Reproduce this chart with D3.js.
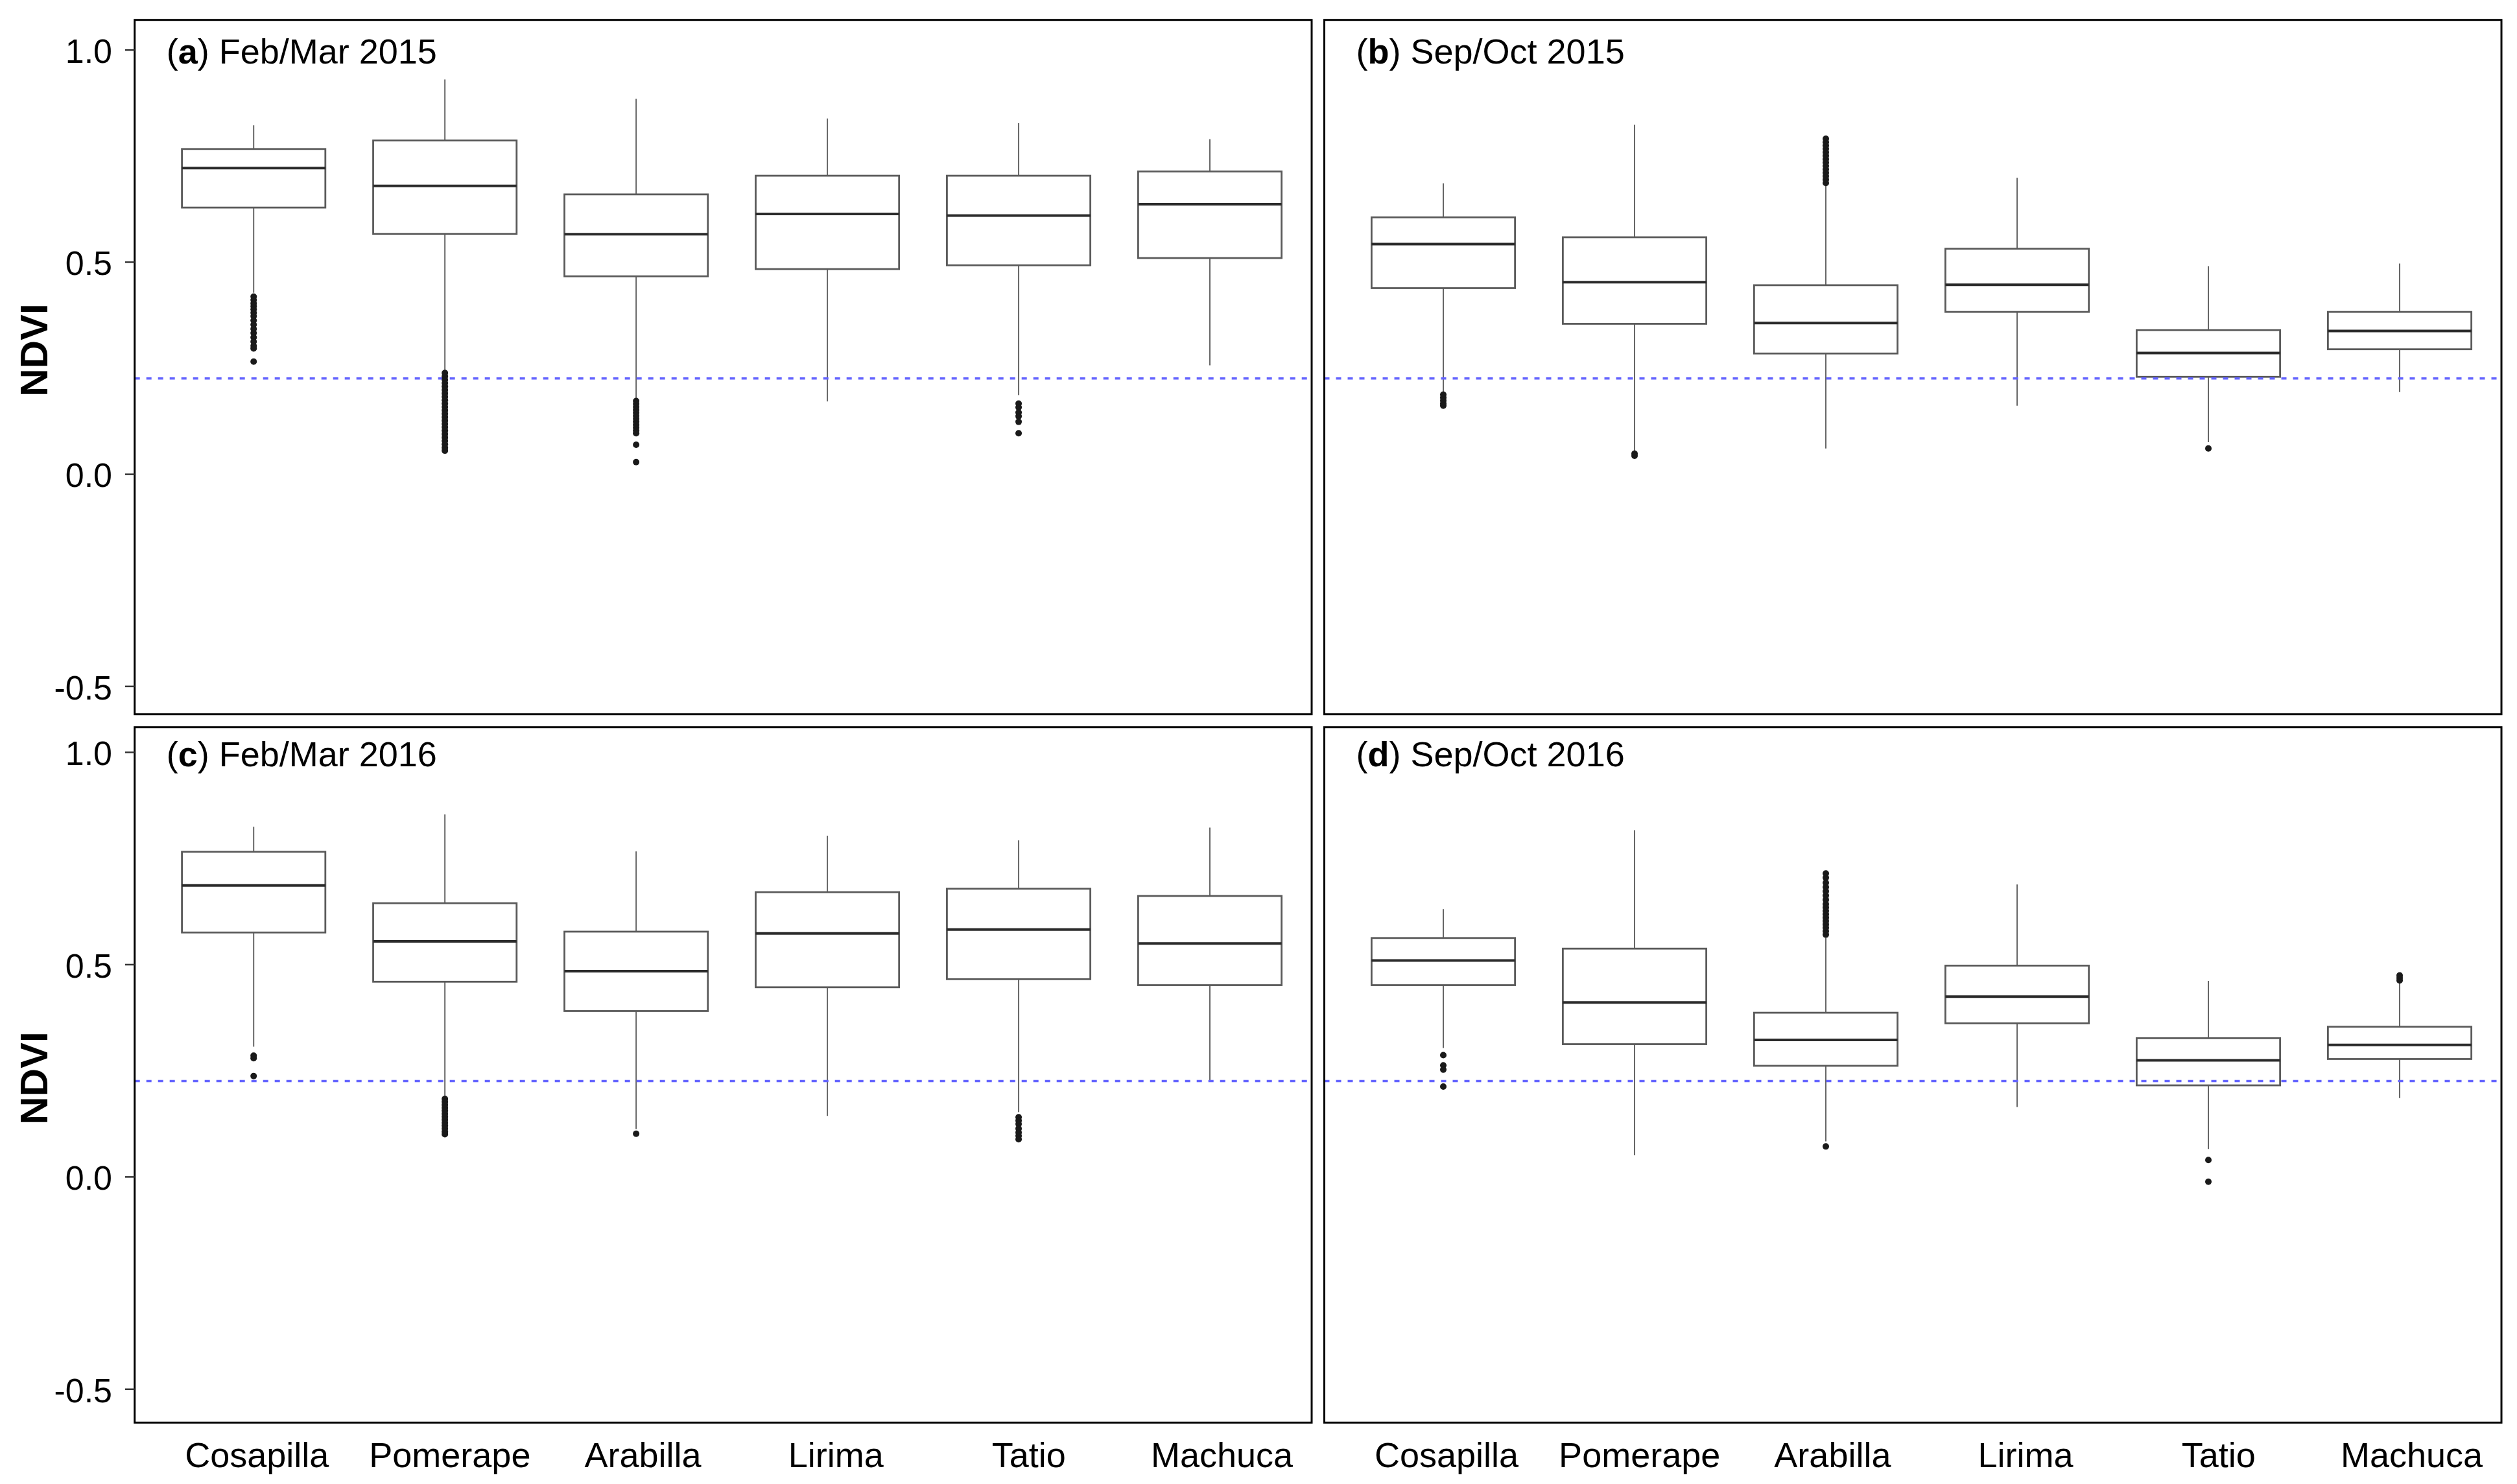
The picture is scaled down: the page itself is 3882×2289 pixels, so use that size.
<!DOCTYPE html>
<html>
<head>
<meta charset="utf-8">
<script src="https://cdn.jsdelivr.net/npm/d3@7"></script>
<style>
  body { margin: 0; background: #fff; }
  text { font-family: "Liberation Sans", Arial, sans-serif; }
</style>
</head>
<body>
<svg id="chart"></svg>
<script>
// sites along the x axis
const sites = ["Cosapilla", "Pomerape", "Arabilla", "Lirima", "Tatio", "Machuca"];
const yTicks = [-0.5, 0, 0.5, 1.0];
const ndviThreshold = 0.225;
const panelLetters = ["a", "b", "c", "d"];
const panelPeriods = ["Feb/Mar 2015", "Sep/Oct 2015", "Feb/Mar 2016", "Sep/Oct 2016"];

// [lower whisker, Q1, median, Q3, upper whisker] for each site
const febMar2015 = [
  [0.427, 0.628, 0.721, 0.766, 0.822],
  [0.242, 0.566, 0.679, 0.786, 0.930],
  [0.177, 0.466, 0.565, 0.659, 0.884],
  [0.171, 0.483, 0.613, 0.703, 0.838],
  [0.186, 0.492, 0.609, 0.703, 0.827],
  [0.256, 0.509, 0.636, 0.713, 0.789]
];
const sepOct2015 = [
  [0.193, 0.438, 0.542, 0.605, 0.685],
  [0.055, 0.354, 0.452, 0.558, 0.823],
  [0.060, 0.284, 0.356, 0.445, 0.679],
  [0.161, 0.382, 0.446, 0.531, 0.698],
  [0.075, 0.229, 0.285, 0.339, 0.490],
  [0.193, 0.294, 0.337, 0.382, 0.496]
];
const febMar2016 = [
  [0.306, 0.575, 0.686, 0.765, 0.824],
  [0.187, 0.459, 0.554, 0.644, 0.853],
  [0.112, 0.390, 0.484, 0.577, 0.766],
  [0.143, 0.446, 0.573, 0.670, 0.803],
  [0.152, 0.465, 0.582, 0.678, 0.792],
  [0.224, 0.451, 0.549, 0.661, 0.822]
];
const sepOct2016 = [
  [0.303, 0.451, 0.509, 0.562, 0.630],
  [0.050, 0.312, 0.410, 0.537, 0.816],
  [0.083, 0.261, 0.322, 0.386, 0.563],
  [0.164, 0.361, 0.424, 0.497, 0.688],
  [0.065, 0.215, 0.274, 0.326, 0.461],
  [0.185, 0.277, 0.310, 0.353, 0.456]
];

// outliers for each site
const febMar2015Out = [
  [0.418, 0.41, 0.402, 0.395, 0.388, 0.38, 0.372, 0.362, 0.352, 0.342, 0.332, 0.322, 0.312, 0.302, 0.296, 0.265],
  [0.238, 0.23, 0.222, 0.214, 0.206, 0.198, 0.19, 0.182, 0.174, 0.166, 0.158, 0.15, 0.142, 0.134, 0.126, 0.118, 0.11, 0.102, 0.094, 0.086, 0.078, 0.07, 0.062, 0.055],
  [0.172, 0.165, 0.158, 0.151, 0.144, 0.137, 0.13, 0.123, 0.116, 0.109, 0.102, 0.096, 0.069, 0.028],
  [],
  [0.166, 0.157, 0.145, 0.136, 0.123, 0.096],
  []
];
const sepOct2015Out = [
  [0.187, 0.18, 0.173, 0.166, 0.161],
  [0.048, 0.043],
  [0.686, 0.694, 0.702, 0.71, 0.718, 0.726, 0.734, 0.742, 0.75, 0.758, 0.766, 0.774, 0.782, 0.79],
  [],
  [0.060],
  []
];
const febMar2016Out = [
  [0.285, 0.279, 0.237],
  [0.183, 0.176, 0.169, 0.162, 0.155, 0.148, 0.141, 0.134, 0.127, 0.12, 0.113, 0.106, 0.100],
  [0.101],
  [],
  [0.14, 0.132, 0.124, 0.113, 0.104, 0.096, 0.088],
  []
];
const sepOct2016Out = [
  [0.286, 0.262, 0.252, 0.212],
  [],
  [0.57, 0.578, 0.586, 0.594, 0.602, 0.61, 0.618, 0.626, 0.634, 0.642, 0.652, 0.662, 0.672, 0.682, 0.692, 0.704, 0.714, 0.071],
  [],
  [0.039, -0.012],
  [0.462, 0.468, 0.474]
];

const width = 3882, height = 2289;

const cols = [{ x0: 207.7, x1: 2023 }, { x0: 2042.5, x1: 3858 }];
const rows = [
  { y0: 30.7, y1: 1101.7, top: 76.7, bottom: 1058.3, labelY: 540 },
  { y0: 1121.7, y1: 2194.3, top: 1160, bottom: 2142.3, labelY: 1663 }
];

const panels = [
  { stats: febMar2015, out: febMar2015Out, col: 0, row: 0 },
  { stats: sepOct2015, out: sepOct2015Out, col: 1, row: 0 },
  { stats: febMar2016, out: febMar2016Out, col: 0, row: 1 },
  { stats: sepOct2016, out: sepOct2016Out, col: 1, row: 1 }
];

const svg = d3.select("#chart")
  .attr("width", width)
  .attr("height", height)
  .style("background", "#fff");

panels.forEach(function (p, i) {
  let col = cols[p.col], row = rows[p.row];

  let x = d3.scalePoint()
    .domain(sites)
    .range([col.x0 + 183.5, col.x1 - 157]);
  let boxW = x.step() * 0.75;

  let y = d3.scaleLinear()
    .domain([-0.5, 1])
    .range([row.bottom, row.top]);

  let g = svg.append("g");

  svg.append("clipPath")
    .attr("id", "clip" + i)
    .append("rect")
    .attr("x", col.x0)
    .attr("y", row.y0)
    .attr("width", col.x1 - col.x0)
    .attr("height", row.y1 - row.y0);

  let plot = g.append("g").attr("clip-path", "url(#clip" + i + ")");

  let box = plot.selectAll("g.box")
    .data(p.stats)
    .enter().append("g")
    .attr("class", "box")
    .attr("transform", function (d, j) { return "translate(" + x(sites[j]) + ",0)"; });

  // whiskers
  box.append("line")
    .attr("y1", function (d) { return y(d[0]); })
    .attr("y2", function (d) { return y(d[1]); })
    .style("stroke", "#666")
    .style("stroke-width", "2px");
  box.append("line")
    .attr("y1", function (d) { return y(d[3]); })
    .attr("y2", function (d) { return y(d[4]); })
    .style("stroke", "#666")
    .style("stroke-width", "2px");

  box.append("rect")
    .attr("x", -boxW / 2)
    .attr("width", boxW)
    .attr("y", function (d) { return y(d[3]); })
    .attr("height", function (d) { return y(d[1]) - y(d[3]); })
    .style("fill", "#fff")
    .style("stroke", "#5a5a5a")
    .style("stroke-width", "2.8px");

  box.append("line")
    .attr("x1", -boxW / 2)
    .attr("x2", boxW / 2)
    .attr("y1", function (d) { return y(d[2]); })
    .attr("y2", function (d) { return y(d[2]); })
    .style("stroke", "#2b2b2b")
    .style("stroke-width", "4px");

  // threshold line
  plot.append("line")
    .attr("x1", col.x0)
    .attr("x2", col.x1)
    .attr("y1", y(ndviThreshold))
    .attr("y2", y(ndviThreshold))
    .style("stroke", "#6464ff")
    .style("stroke-width", "3.5px")
    .style("stroke-dasharray", "8,10");

  // outliers
  p.out.forEach(function (vals, j) {
    plot.selectAll(null)
      .data(vals)
      .enter().append("circle")
      .attr("cx", x(sites[j]))
      .attr("cy", function (d) { return y(d); })
      .attr("r", 5)
      .style("fill", "#1a1a1a");
  });

  // frame
  g.append("rect")
    .attr("x", col.x0)
    .attr("y", row.y0)
    .attr("width", col.x1 - col.x0)
    .attr("height", row.y1 - row.y0)
    .style("fill", "none")
    .style("stroke", "#000")
    .style("stroke-width", "3px");

  // panel title
  let title = g.append("text")
    .attr("x", col.x0 + 49)
    .attr("y", row.top + 21.5)
    .style("font-size", "54px")
    .style("fill", "#000");
  title.append("tspan").text("(");
  title.append("tspan").style("font-weight", "bold").text(panelLetters[i]);
  title.append("tspan").text(") " + panelPeriods[i]);

  if (p.col === 0) {
    let yAxis = d3.axisLeft(y)
      .tickValues(yTicks)
      .tickSize(14.7)
      .tickPadding(20)
      .tickFormat(function (d) { return d.toFixed(1); });

    let ax = g.append("g")
      .attr("transform", "translate(" + col.x0 + ",0)")
      .call(yAxis);
    ax.select(".domain").remove();
    ax.selectAll(".tick line").style("stroke", "#333").style("stroke-width", "2.5px");
    ax.selectAll(".tick text")
      .attr("dy", "0.38em")
      .style("font-size", "52px")
      .style("font-family", '"Liberation Sans", Arial, sans-serif')
      .style("fill", "#000");

    g.append("text")
      .attr("transform", "translate(72.7," + row.labelY + ") rotate(-90)")
      .attr("text-anchor", "middle")
      .style("font-size", "60px")
      .style("font-weight", "bold")
      .style("fill", "#000")
      .text("NDVI");
  }

  if (p.row === 1) {
    let labelX = d3.scalePoint()
      .domain(sites)
      .range([col.x0 + 188, col.x1 - 139]);
    let xAxis = d3.axisBottom(labelX)
      .tickSize(0)
      .tickPadding(30.4);
    let ax = g.append("g")
      .attr("transform", "translate(0," + row.y1 + ")")
      .call(xAxis);
    ax.select(".domain").remove();
    ax.selectAll(".tick text")
      .style("font-size", "54px")
      .style("font-family", '"Liberation Sans", Arial, sans-serif')
      .style("fill", "#000");
  }
});
</script>
</body>
</html>
